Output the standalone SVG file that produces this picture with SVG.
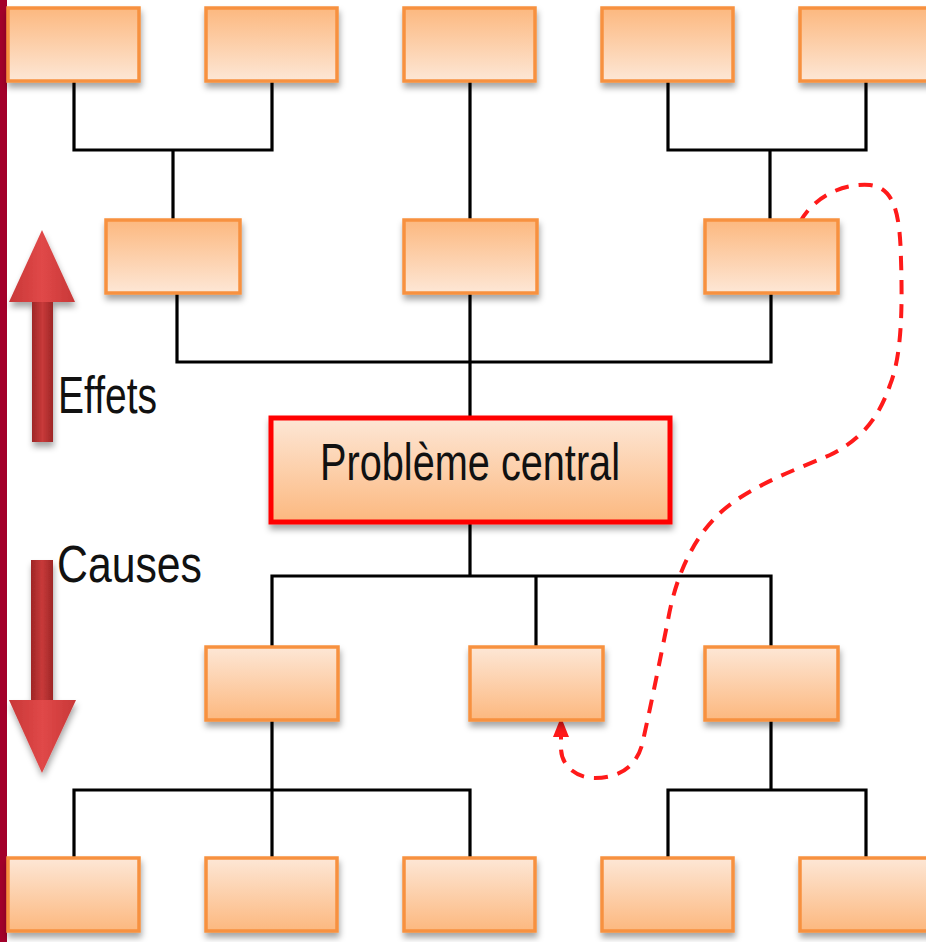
<svg xmlns="http://www.w3.org/2000/svg" width="926" height="942" viewBox="0 0 926 942">
<defs>
  <linearGradient id="gDown" x1="0" y1="0" x2="0" y2="1">
    <stop offset="0" stop-color="#fcb87f"/>
    <stop offset="1" stop-color="#fde7d6"/>
  </linearGradient>
  <linearGradient id="gUp" x1="0" y1="0" x2="0" y2="1">
    <stop offset="0" stop-color="#fde7d6"/>
    <stop offset="1" stop-color="#fcb87f"/>
  </linearGradient>
  <linearGradient id="gShaft" x1="0" y1="0" x2="1" y2="0">
    <stop offset="0" stop-color="#9e2626"/>
    <stop offset="0.5" stop-color="#c83a3a"/>
    <stop offset="1" stop-color="#9e2626"/>
  </linearGradient>
  <linearGradient id="gHead" x1="0" y1="0" x2="1" y2="0">
    <stop offset="0" stop-color="#c83838"/>
    <stop offset="0.5" stop-color="#e04848"/>
    <stop offset="1" stop-color="#c83838"/>
  </linearGradient>
  <filter id="sh" x="-20%" y="-20%" width="140%" height="150%">
    <feDropShadow dx="1" dy="5" stdDeviation="3" flood-color="#000" flood-opacity="0.35"/>
  </filter>
  <marker id="redHead" markerWidth="20" markerHeight="16" refX="2" refY="8" orient="auto" markerUnits="userSpaceOnUse">
    <path d="M0,0 L20,8 L0,16 Z" fill="#ff1a1a"/>
  </marker>
  <style>
    .box { stroke:#f7913f; stroke-width:3.5; filter:url(#sh); }
    .dn { fill:url(#gDown); }
    .up { fill:url(#gUp); }
    .con { fill:none; stroke:#000; stroke-width:3.2; stroke-linejoin:miter; }
    .lbl { font-family:"Liberation Sans", Arial, sans-serif; fill:#111; }
  </style>
</defs>
<rect x="0" y="0" width="926" height="942" fill="#ffffff"/>
<rect x="0" y="0" width="7" height="942" fill="#a3002a"/>

<g id="connectors">
  <polyline class="con" points="74,81 74,150 272,150 272,81"/>
  <line class="con" x1="173" y1="150" x2="173" y2="220"/>
  <line class="con" x1="470" y1="81" x2="470" y2="220"/>
  <polyline class="con" points="668,81 668,150 866,150 866,81"/>
  <line class="con" x1="770" y1="150" x2="770" y2="220"/>
  <polyline class="con" points="177,293 177,362 771,362 771,293"/>
  <line class="con" x1="470" y1="293" x2="470" y2="418"/>
  <line class="con" x1="470" y1="522" x2="470" y2="576"/>
  <polyline class="con" points="272,647 272,576 771,576 771,647"/>
  <line class="con" x1="536" y1="576" x2="536" y2="647"/>
  <line class="con" x1="272" y1="720" x2="272" y2="858"/>
  <polyline class="con" points="74,858 74,790 470,790 470,858"/>
  <line class="con" x1="771" y1="720" x2="771" y2="790"/>
  <polyline class="con" points="668,858 668,790 866,790 866,858"/>
  <path id="loop" d="M800,222 C815,195 845,183 870,185 C895,188 900,215 901,260 C903,320 900,360 890,385 C878,420 860,440 830,455 C790,472 740,490 713,520 C690,545 675,580 668,620 C660,660 650,710 642,745 C635,770 615,778 595,778 C575,778 561,765 561,748 L561,735" fill="none" stroke="#ff1a1a" stroke-width="4" stroke-dasharray="14,10" marker-end="url(#redHead)"/>
</g>

<g id="top1"><rect class="box dn" x="8" y="8" width="131" height="73"/></g>
<g id="top2"><rect class="box dn" x="206" y="8" width="131" height="73"/></g>
<g id="top3"><rect class="box dn" x="404" y="8" width="131" height="73"/></g>
<g id="top4"><rect class="box dn" x="602" y="8" width="131" height="73"/></g>
<g id="top5"><rect class="box dn" x="800" y="8" width="131" height="73"/></g>

<g id="eff1"><rect class="box dn" x="106" y="220" width="134" height="73"/></g>
<g id="eff2"><rect class="box dn" x="404" y="220" width="133" height="73"/></g>
<g id="eff3"><rect class="box dn" x="705" y="220" width="133" height="73"/></g>

<g id="central">
  <rect x="271" y="418" width="399" height="104" fill="url(#gUp)" stroke="#ff0000" stroke-width="5" filter="url(#sh)"/>
  <text class="lbl" x="470" y="480" font-size="52" text-anchor="middle" textLength="300" lengthAdjust="spacingAndGlyphs">Problème central</text>
</g>

<g id="cause1"><rect class="box up" x="206" y="647" width="132" height="73"/></g>
<g id="cause2"><rect class="box up" x="470" y="647" width="133" height="73"/></g>
<g id="cause3"><rect class="box up" x="705" y="647" width="133" height="73"/></g>

<g id="bot1"><rect class="box up" x="8" y="858" width="131" height="73"/></g>
<g id="bot2"><rect class="box up" x="206" y="858" width="131" height="73"/></g>
<g id="bot3"><rect class="box up" x="404" y="858" width="131" height="73"/></g>
<g id="bot4"><rect class="box up" x="602" y="858" width="131" height="73"/></g>
<g id="bot5"><rect class="box up" x="800" y="858" width="131" height="73"/></g>

<g id="arrowUp" filter="url(#sh)">
  <rect x="32" y="300" width="21" height="142" fill="url(#gShaft)"/>
  <polygon points="42,230 75,302 9,302" fill="url(#gHead)"/>
</g>
<g id="effets"><text class="lbl" x="58" y="413" font-size="52" textLength="99" lengthAdjust="spacingAndGlyphs">Effets</text></g>

<g id="arrowDown" filter="url(#sh)">
  <rect x="31" y="560" width="22" height="142" fill="url(#gShaft)"/>
  <polygon points="9,700 76,700 42,773" fill="url(#gHead)"/>
</g>
<g id="causes"><text class="lbl" x="57" y="582" font-size="52" textLength="145" lengthAdjust="spacingAndGlyphs">Causes</text></g>
</svg>
